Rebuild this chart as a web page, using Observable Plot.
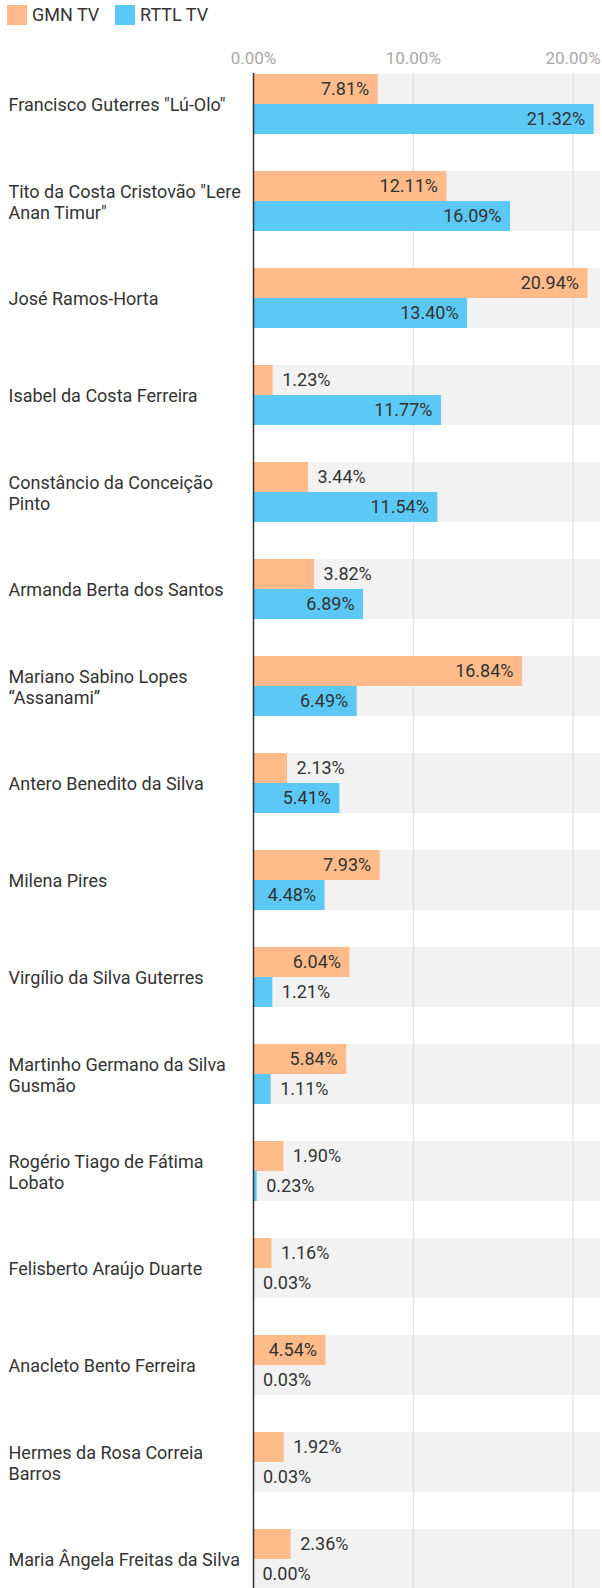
<!DOCTYPE html>
<html>
<head>
<meta charset="utf-8">
<script src="https://cdn.jsdelivr.net/npm/d3@7"></script>
<script src="https://cdn.jsdelivr.net/npm/@observablehq/plot@0.6"></script>
<style>
  html, body { margin: 0; padding: 0; background: #fff; }
  body { width: 602px; height: 1588px; overflow: hidden; font-family: Roboto, sans-serif; }
  #legend { position: relative; height: 32px; }
  .sw { position: absolute; top: 5px; width: 20px; height: 20px; }
  .lt { position: absolute; top: 4px; font-size: 18px; line-height: 22px; color: #333; }
  #chart svg { display: block; }
</style>
</head>
<body>
<div id="legend"></div>
<div id="chart"></div>
<script>
const candidates = [
  "Francisco Guterres \"Lú-Olo\"",
  "Tito da Costa Cristovão \"Lere\nAnan Timur\"",
  "José Ramos-Horta",
  "Isabel da Costa Ferreira",
  "Constâncio da Conceição\nPinto",
  "Armanda Berta dos Santos",
  "Mariano Sabino Lopes\n“Assanami”",
  "Antero Benedito da Silva",
  "Milena Pires",
  "Virgílio da Silva Guterres",
  "Martinho Germano da Silva\nGusmão",
  "Rogério Tiago de Fátima\nLobato",
  "Felisberto Araújo Duarte",
  "Anacleto Bento Ferreira",
  "Hermes da Rosa Correia\nBarros",
  "Maria Ângela Freitas da Silva"
];
const seriesNames = ["GMN TV", "RTTL TV"];
const seriesColors = ["#ffbc8a", "#5bc8f6"];
const gmnValues = [7.81, 12.11, 20.94, 1.23, 3.44, 3.82, 16.84, 2.13, 7.93, 6.04, 5.84, 1.90, 1.16, 4.54, 1.92, 2.36];
const rttlValues = [21.32, 16.09, 13.40, 11.77, 11.54, 6.89, 6.49, 5.41, 4.48, 1.21, 1.11, 0.23, 0.03, 0.03, 0.03, 0.00];
const xTicks = [0, 10, 20];

// legend
const legend = document.getElementById("legend");
[[7, 32], [115, 140]].forEach(([sx, tx], i) => {
  const s = document.createElement("div");
  s.className = "sw"; s.style.left = sx + "px"; s.style.background = seriesColors[i];
  legend.appendChild(s);
  const t = document.createElement("div");
  t.className = "lt"; t.style.left = tx + "px"; t.textContent = seriesNames[i];
  legend.appendChild(t);
});

const rows = [];
candidates.forEach((c, i) => {
  rows.push({candidate: c, series: seriesNames[0], value: gmnValues[i]});
  rows.push({candidate: c, series: seriesNames[1], value: rttlValues[i]});
});
const gmn = rows.filter(d => d.series === seriesNames[0]);
const rttl = rows.filter(d => d.series === seriesNames[1]);
const fmt = v => v.toFixed(2) + "%";
const inside = d => d.value >= 4;

const W = 602, H = 1556;
const chart = Plot.plot({
  width: W,
  height: H,
  marginLeft: 253,
  marginRight: 2,
  marginTop: 41,
  marginBottom: 0,
  style: {fontFamily: "Roboto, sans-serif", background: "#fff", overflow: "visible"},
  x: {domain: [0, 21.72], axis: null, label: null},
  y: {domain: candidates, range: [40.7, 1559], paddingInner: 0.383, paddingOuter: 0, axis: null},
  marks: [
    Plot.axisX({anchor: "top", ticks: xTicks, tickFormat: d => d.toFixed(2) + "%", tickSize: 0, tickPadding: 10, fontSize: 17, fill: "#a8a8a8", label: null}),
    Plot.barX(candidates, {x1: 0, x2: 21.72, y: d => d, fill: "#f2f2f2"}),
    Plot.ruleX([10, 20], {stroke: "#dcdcdc", strokeWidth: 1}),
    Plot.barX(gmn, {x: "value", y: "candidate", fill: seriesColors[0], insetBottom: 30}),
    Plot.barX(rttl, {x: "value", y: "candidate", fill: seriesColors[1], insetTop: 30}),
    Plot.ruleX([0], {stroke: "#333", strokeWidth: 1.5}),
    Plot.text(gmn.filter(inside), {x: "value", y: "candidate", dy: -15, dx: -9, text: d => fmt(d.value), textAnchor: "end", fill: "#333", fontSize: 18}),
    Plot.text(gmn.filter(d => !inside(d)), {x: "value", y: "candidate", dy: -15, dx: 9, text: d => fmt(d.value), textAnchor: "start", fill: "#333", fontSize: 18}),
    Plot.text(rttl.filter(inside), {x: "value", y: "candidate", dy: 15, dx: -9, text: d => fmt(d.value), textAnchor: "end", fill: "#333", fontSize: 18}),
    Plot.text(rttl.filter(d => !inside(d)), {x: "value", y: "candidate", dy: 15, dx: 9, text: d => fmt(d.value), textAnchor: "start", fill: "#333", fontSize: 18}),
    Plot.text(candidates, {y: d => d, text: d => d, frameAnchor: "left", dx: -245, textAnchor: "start", lineHeight: 1.17, fill: "#333", fontSize: 18})
  ]
});
document.getElementById("chart").appendChild(chart);
</script>
</body>
</html>
